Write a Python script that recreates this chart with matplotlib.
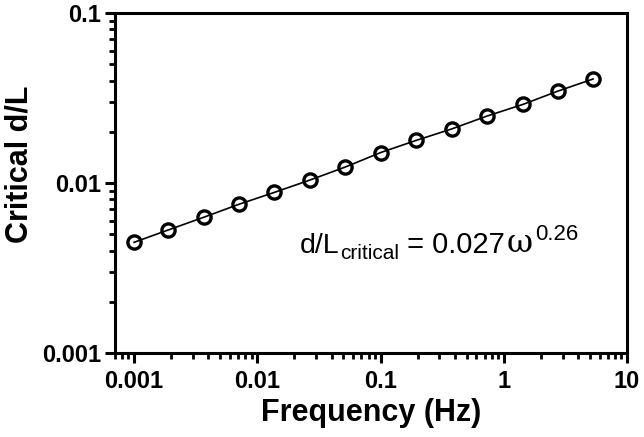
import matplotlib
matplotlib.use("Agg")
import matplotlib.pyplot as plt
from matplotlib.ticker import LogLocator, FixedLocator, FixedFormatter, NullFormatter

plt.rcParams['font.family'] = ['Liberation Sans', 'DejaVu Sans']

# data
freq = [0.001, 0.0019, 0.0037, 0.0071, 0.0137, 0.0266, 0.0515, 0.1,
        0.194, 0.378, 0.735, 1.43, 2.77, 5.3]
crit_dl = [0.00448, 0.0053, 0.0063, 0.0075, 0.0088, 0.0104, 0.0124, 0.0151,
           0.0178, 0.0208, 0.0248, 0.0290, 0.0348, 0.0409]
x_ticks = [0.001, 0.01, 0.1, 1, 10]
x_tick_labels = ['0.001', '0.01', '0.1', '1', '10']
y_ticks = [0.001, 0.01, 0.1]
y_tick_labels = ['0.001', '0.01', '0.1']

fig = plt.figure(figsize=(6.44, 4.37), dpi=100)
ax = fig.add_axes([0.1786, 0.1922, 0.795, 0.778])

ax.plot(freq, crit_dl, color='black', lw=1.2, marker='o', ms=9.5,
        mfc='none', mec='black', mew=2.4)

ax.set_xscale('log')
ax.set_yscale('log')
ax.set_xlim(0.0007, 10)
ax.set_ylim(0.001, 0.1)

ax.xaxis.set_major_locator(FixedLocator(x_ticks))
ax.xaxis.set_major_formatter(FixedFormatter(x_tick_labels))
ax.yaxis.set_major_locator(FixedLocator(y_ticks))
ax.yaxis.set_major_formatter(FixedFormatter(y_tick_labels))
ax.xaxis.set_minor_locator(LogLocator(base=10, subs=range(2, 10), numticks=20))
ax.yaxis.set_minor_locator(LogLocator(base=10, subs=range(2, 10), numticks=20))
ax.xaxis.set_minor_formatter(NullFormatter())
ax.yaxis.set_minor_formatter(NullFormatter())

for s in ax.spines.values():
    s.set_linewidth(2.2)
ax.tick_params(which='major', direction='out', length=7, width=2.2,
               labelsize=17, pad=3)
ax.tick_params(axis='x', which='major', pad=5)
ax.tick_params(which='minor', direction='out', length=4.5, width=2.0)
for lab in ax.get_xticklabels() + ax.get_yticklabels():
    lab.set_fontweight('bold')

ax.set_xlabel('Frequency (Hz)', fontsize=22, fontweight='bold', labelpad=4)
ax.set_ylabel('Critical d/L', fontsize=22, fontweight='bold')
ax.yaxis.set_label_coords(-0.158, 0.555)

# equation, built from pieces
t1 = ax.text(0.361, 0.294, 'd/L', transform=ax.transAxes, fontsize=20.5,
             ha='left', va='baseline')
t2 = ax.annotate('critical', xy=(1, 0), xycoords=t1, xytext=(0.5, -3),
                 textcoords='offset points', fontsize=15, ha='left', va='bottom')
t3 = ax.annotate(' = 0.027', xy=(1, 0), xycoords=(t2, t1), xytext=(0, 0),
                 textcoords='offset points', fontsize=21, ha='left', va='bottom')
t4 = ax.annotate('ω', xy=(1, 0), xycoords=(t3, t1), xytext=(1, 0),
                 textcoords='offset points', fontsize=23, ha='left', va='bottom',
                 family='DejaVu Serif')
t5 = ax.annotate('0.26', xy=(1, 0), xycoords=(t4, t1), xytext=(2, 10),
                 textcoords='offset points', fontsize=16, ha='left', va='bottom')

fig.savefig('out.png', dpi=100)
